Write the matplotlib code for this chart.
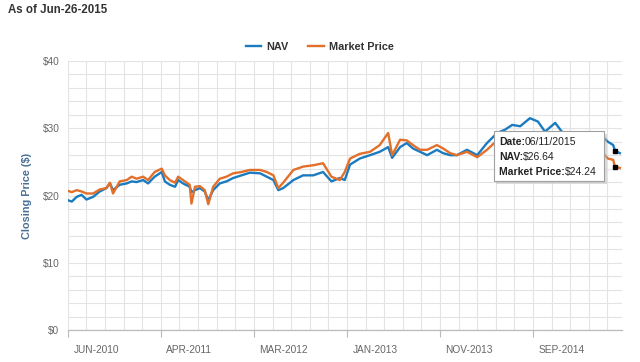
import matplotlib.pyplot as plt
import matplotlib.transforms as mtransforms
from matplotlib.patches import Rectangle
from matplotlib.ticker import MultipleLocator

plt.rcParams['font.family'] = ['Liberation Sans', 'DejaVu Sans']

# trading-day index since Jun-2010 and closing prices
days = [0, 9, 20, 31, 42, 57, 72, 87, 95, 102, 117, 133, 144, 155, 170, 181,
        196, 212, 219, 230, 242, 249, 260, 275, 279, 287, 298, 309, 317, 328,
        343, 358, 373, 392, 411, 434, 449, 464, 475, 486, 509, 531, 554, 576,
        595, 614, 625, 637, 659, 682, 704, 723, 732, 750, 765, 779, 795, 811,
        833, 847, 863, 878, 901, 924, 946, 969, 987, 1003, 1021, 1043, 1061,
        1077, 1100, 1115, 1133, 1156, 1179, 1197, 1208, 1219, 1231, 1235, 1246]
nav = [19.3, 19.1, 19.8, 20.1, 19.4, 19.8, 20.6, 21.1, 21.8, 20.8, 21.6, 21.8,
       22.1, 22.0, 22.3, 21.8, 22.8, 23.5, 22.1, 21.6, 21.3, 22.3, 21.8, 21.3,
       20.5, 20.8, 21.1, 20.6, 19.3, 20.8, 21.8, 22.1, 22.6, 23.0, 23.4, 23.3,
       22.8, 22.3, 20.8, 21.1, 22.3, 23.0, 23.0, 23.5, 22.1, 22.6, 22.3, 24.6,
       25.5, 26.0, 26.5, 27.2, 25.6, 27.2, 27.8, 27.0, 26.5, 26.0, 26.8, 26.3,
       26.0, 26.0, 26.8, 26.0, 27.8, 29.3, 29.8, 30.5, 30.3, 31.5, 31.0, 29.5,
       30.8, 29.5, 28.8, 29.0, 28.5, 28.5, 28.7, 28.0, 27.5, 26.64, 26.3]
market = [20.7, 20.5, 20.8, 20.6, 20.3, 20.3, 20.9, 21.1, 21.9, 20.3, 22.1,
          22.3, 22.8, 22.5, 22.8, 22.3, 23.5, 24.0, 23.0, 22.3, 21.9, 22.8,
          22.3, 21.6, 18.8, 21.3, 21.4, 20.8, 18.7, 21.3, 22.5, 22.8, 23.3,
          23.5, 23.8, 23.8, 23.5, 23.0, 21.1, 21.9, 23.8, 24.3, 24.5, 24.8,
          22.8, 22.3, 23.5, 25.5, 26.2, 26.5, 27.5, 29.3, 26.0, 28.3, 28.2,
          27.5, 26.8, 26.8, 27.5, 27.0, 26.3, 26.0, 26.5, 25.7, 26.8, 28.2,
          27.5, 27.8, 27.5, 28.0, 27.8, 27.0, 27.8, 27.0, 26.8, 27.0, 26.5,
          26.3, 26.3, 25.5, 25.3, 24.24, 24.1]
tick_days = [0, 210, 420, 630, 840, 1050]
tick_labels = ['JUN-2010', 'APR-2011', 'MAR-2012', 'JAN-2013', 'NOV-2013', 'SEP-2014']
y_ticks = [0, 10, 20, 30, 40]
y_labels = ['$0', '$10', '$20', '$30', '$40']
hover_day = 1235
hover_nav = 26.64
hover_market = 24.24

blue = '#1b7bc0'
orange = '#e26f2a'

fig = plt.figure(figsize=(6.4, 3.62), dpi=100)
ax = fig.add_axes([0.106, 0.0884, 0.866, 0.743])

ax.plot(days, nav, color=blue, linewidth=1.7, label='NAV', zorder=3)
ax.plot(days, market, color=orange, linewidth=1.7, label='Market Price', zorder=3)
ax.plot([hover_day, hover_day], [hover_nav, hover_market], linestyle='none',
        marker='s', markersize=3.5, color='black', zorder=4)

ax.set_xlim(0, 1251)
ax.set_ylim(0, 40)
ax.set_xticks(tick_days)
ax.set_xticklabels(tick_labels, fontsize=7.3, color='#666666')
ax.xaxis.set_minor_locator(MultipleLocator(42))
ax.set_yticks(y_ticks)
ax.set_yticklabels(y_labels, fontsize=7.3, color='#666666')
ax.yaxis.set_minor_locator(MultipleLocator(2))

# gridlines
ax.grid(True, which='both', color='#e3e3e3', linewidth=0.8, zorder=0)
ax.set_axisbelow(True)

for s in ['top', 'right', 'left']:
    ax.spines[s].set_visible(False)
ax.spines['bottom'].set_color('#bbbbbb')
ax.spines['bottom'].set_linewidth(0.9)

ax.tick_params(axis='x', which='major', length=5, color='#bbbbbb', pad=6)
ax.tick_params(axis='x', which='minor', length=0)
ax.tick_params(axis='y', which='both', length=0, pad=6)

# x labels sit to the right of their tick
offset = mtransforms.ScaledTranslation(4 / 72, 0, fig.dpi_scale_trans)
for lab in ax.get_xticklabels():
    lab.set_horizontalalignment('left')
    lab.set_transform(lab.get_transform() + offset)

ax.set_ylabel('Closing Price ($)', fontsize=7.8, fontweight='bold',
              color='#4a7096', labelpad=8)

fig.text(0.012, 0.988, 'As of Jun-26-2015', fontsize=8.3, fontweight='bold',
         color='#333333', ha='left', va='top')

fig.legend(handles=ax.get_lines()[:2], loc='center', bbox_to_anchor=(0.5, 0.870),
           ncol=2, frameon=False, handlelength=1.4, handletextpad=0.5,
           columnspacing=1.8, prop={'size': 7.8, 'weight': 'bold'},
           labelcolor='#333333')

# hover tooltip
tx0, ty0, tw, th = 0.769, 0.554, 0.199, 0.186
ax.add_patch(Rectangle((tx0 + 0.004, ty0 - 0.01), tw, th, transform=ax.transAxes,
                       facecolor='#bbbbbb', edgecolor='none', alpha=0.5,
                       zorder=5, clip_on=False))
ax.add_patch(Rectangle((tx0, ty0), tw, th, transform=ax.transAxes,
                       facecolor='white', edgecolor='#a0a0a0', linewidth=0.8,
                       zorder=6, clip_on=False))
rows = [('Date:', '06/11/2015'), ('NAV:', '$26.64'), ('Market Price:', '$24.24')]
for i, (k, v) in enumerate(rows):
    yy = ty0 + th - 0.042 - i * 0.055
    t = ax.text(tx0 + 0.009, yy, k, transform=ax.transAxes, fontsize=7.5,
                fontweight='bold', color='#222222', va='center', ha='left', zorder=7)
    ax.annotate(v, xy=(1, 0.5), xycoords=t, fontsize=7.5, color='#222222',
                va='center', ha='left', zorder=7)

fig.savefig('out.png', dpi=100)
